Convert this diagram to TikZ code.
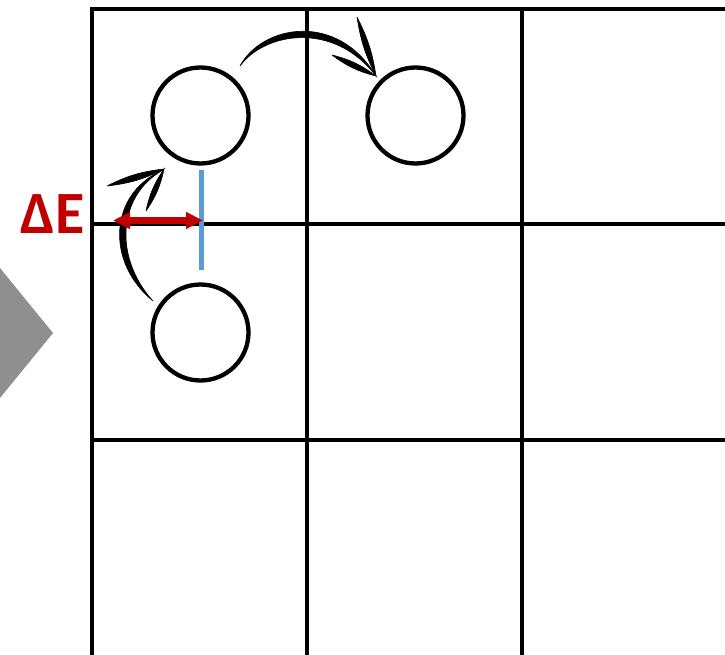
\documentclass[tikz,border=0pt]{standalone}
\usepackage{fontspec}
\setmainfont{Carlito}
\usetikzlibrary{arrows.meta}
\definecolor{deltared}  {RGB}{192,  0,  0}
\definecolor{levelblue} {RGB}{ 91,155,213}
\definecolor{chevgray}  {RGB}{143,143,143}

\begin{document}
\begin{tikzpicture}[
  x=1pt, y=-1pt,
  grid/.style={line width=4.5pt, black},
  site/.style={draw=black, line width=4.3pt, circle, minimum size=96pt, inner sep=0pt},
  brush/.style={fill=black, draw=black, line width=0.6pt},
  gap/.style={{Triangle[length=17pt,width=16pt]}-{Triangle[length=17pt,width=16pt]}, line width=6.5pt, deltared},
  level/.style={line width=5pt, levelblue}
]
  \useasboundingbox (0,0) rectangle (725,655);
  \clip (0,0) rectangle (725,655);

  % Chevron
  \fill[chevgray] (-20,243.5) -- (53,333) -- (-20,422.5) -- cycle;

  % Grid
  \draw[grid] (92,665) -- (92,9) -- (735,9);
  \draw[grid] (307,9) -- (307,665);
  \draw[grid] (522,9) -- (522,665);
  \draw[grid] (92,224) -- (735,224);
  \draw[grid] (92,440) -- (735,440);

  % Nodes
  \node (c1) [site] at (200.5,115.5) {};
  \node (c2) [site] at (415.5,115.5) {};
  \node (c3) [site] at (200.5,332.5) {};
  \node (dE) [text=deltared, font=\bfseries\fontsize{60}{60}\selectfont, inner sep=0pt] at (52.5,214) {ΔE};

  \coordinate (lvlTop) at (201,170);
  \coordinate (lvlBot) at (201,270);
  \coordinate (gapL) at (113,220.5);
  \coordinate (gapR) at (203,220.5);

  % Hops
  \fill[brush] (153,301) .. controls (105,262) and (109,193) .. (163,170)
               .. controls (117,196) and (114,258) .. (153,301);
  \fill[brush] (107,186) to[bend left=10] (164,169) to[bend left=10] (107,186);
  \fill[brush] (146,211) to[bend left=11] (164,169) to[bend left=11] (146,211);

  \fill[brush] (240,66) .. controls (262,25) and (337,11) .. (376,76)
               .. controls (333,20) and (264,33) .. (240,66);
  \fill[brush] (332,55) to[bend left=11] (376,76) to[bend left=11] (332,55);
  \fill[brush] (357,17) to[bend left=9] (376,76) to[bend left=9] (357,17);

  % Energy gap
  \draw[level] (lvlTop) -- (lvlBot);
  \draw[gap] (gapL) -- (gapR);
\end{tikzpicture}
\end{document}
